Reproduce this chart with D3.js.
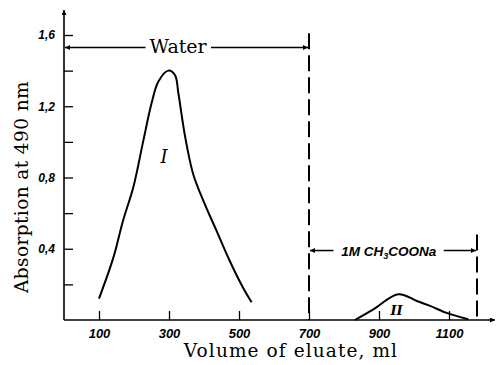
<!DOCTYPE html>
<html>
<head>
<meta charset="utf-8">
<script src="https://cdn.jsdelivr.net/npm/d3@7"></script>
<style>
  body { margin: 0; background: #fff; }
  svg { display: block; }
  .tick-label { font-family: "Liberation Sans", Arial, sans-serif; font-style: italic; font-weight: bold; }
  .title { font-family: "DejaVu Serif", serif; }
</style>
</head>
<body>
<div id="chart"></div>
<script>
// peak I (water fraction)
const peak1Volume = [100, 141, 169, 198, 227, 250, 270, 298, 317, 327, 346, 369, 398, 436, 474, 512, 536];
const peak1Abs = [0.12, 0.35, 0.56, 0.745, 1.01, 1.215, 1.34, 1.40, 1.375, 1.27, 1.03, 0.82, 0.67, 0.50, 0.33, 0.18, 0.10];
// peak II (1M CH3COONa fraction)
const peak2Volume = [831, 884, 955, 1008, 1046, 1093, 1155];
const peak2Abs = [0, 0.06, 0.145, 0.107, 0.079, 0.04, 0.004];

const xTicks = [100, 300, 500, 700, 900, 1100];
const yTicks = [0.2, 0.4, 0.6, 0.8, 1.0, 1.2, 1.4, 1.6];
const yLabelled = [0.4, 0.8, 1.2, 1.6];

const eluentChange = 700;
const eluentEnd = 1180;

const width = 496, height = 365;

const svg = d3.select("#chart").append("svg")
  .attr("width", width)
  .attr("height", height);

const x = d3.scaleLinear().domain([0, 1100]).range([64, 449]);
const y = d3.scaleLinear().domain([0, 1.6]).range([320, 35]);

// arrow heads
const defs = svg.append("defs");
defs.append("marker")
  .attr("id", "arrow")
  .attr("viewBox", "0 0 10 10")
  .attr("refX", 10).attr("refY", 5)
  .attr("markerWidth", 9).attr("markerHeight", 5)
  .attr("markerUnits", "userSpaceOnUse")
  .attr("orient", "auto-start-reverse")
  .append("path")
  .attr("d", "M0,0L10,5L0,10Z")
  .attr("fill", "#000");

// axis lines with arrows
svg.append("line")
  .attr("x1", x(0)).attr("y1", y(0))
  .attr("x2", x(0)).attr("y2", 10)
  .attr("stroke", "#000").attr("stroke-width", 1.6)
  .attr("marker-end", "url(#arrow)");
svg.append("line")
  .attr("x1", x(0)).attr("y1", y(0))
  .attr("x2", 495).attr("y2", y(0))
  .attr("stroke", "#000").attr("stroke-width", 1.6)
  .attr("marker-end", "url(#arrow)");

// Y axis, ticks pointing inward
const yAxis = svg.append("g")
  .attr("transform", `translate(${x(0)},0)`)
  .call(d3.axisLeft(y)
    .tickValues(yTicks)
    .tickSize(-9)
    .tickPadding(9)
    .tickFormat(d => yLabelled.some(v => Math.abs(v - d) < 1e-9) ? d3.format(".1f")(d).replace(".", ",") : ""));
yAxis.select(".domain").remove();
yAxis.selectAll("line").attr("stroke", "#000").attr("stroke-width", 1.3);
yAxis.selectAll("text").attr("class", "tick-label").attr("font-size", 12).attr("fill", "#000");

// X axis, ticks pointing inward
const xAxis = svg.append("g")
  .attr("transform", `translate(0,${y(0)})`)
  .call(d3.axisBottom(x)
    .tickValues(xTicks)
    .tickSize(-9)
    .tickPadding(9)
    .tickFormat(d3.format("d")));
xAxis.select(".domain").remove();
xAxis.selectAll("line").attr("stroke", "#000").attr("stroke-width", 1.3);
xAxis.selectAll("text").attr("class", "tick-label").attr("font-size", 13).attr("fill", "#000");

// axis titles
svg.append("text")
  .attr("class", "title")
  .attr("transform", `translate(28,${187}) rotate(-90)`)
  .attr("text-anchor", "middle")
  .attr("font-size", 18.5)
  .attr("letter-spacing", 0.4)
  .text("Absorption at 490 nm");
svg.append("text")
  .attr("class", "title")
  .attr("x", 291).attr("y", 357)
  .attr("text-anchor", "middle")
  .attr("font-size", 18.5)
  .attr("letter-spacing", 1.1)
  .text("Volume of eluate, ml");

// dashed eluent boundaries
const dash = "16,6";
svg.append("line")
  .attr("x1", x(eluentChange)).attr("x2", x(eluentChange))
  .attr("y1", y(1.61)).attr("y2", y(0))
  .attr("stroke", "#000").attr("stroke-width", 2)
  .attr("stroke-dasharray", dash);
svg.append("line")
  .attr("x1", x(eluentEnd)).attr("x2", x(eluentEnd))
  .attr("y1", y(0.48)).attr("y2", y(0))
  .attr("stroke", "#000").attr("stroke-width", 2)
  .attr("stroke-dasharray", dash);

// "Water" span
const waterY = y(1.53);
svg.append("line")
  .attr("x1", x(233)).attr("x2", x(0) + 1)
  .attr("y1", waterY).attr("y2", waterY)
  .attr("stroke", "#000").attr("stroke-width", 1.5)
  .attr("marker-end", "url(#arrow)");
svg.append("line")
  .attr("x1", x(420)).attr("x2", x(eluentChange) - 1)
  .attr("y1", waterY).attr("y2", waterY)
  .attr("stroke", "#000").attr("stroke-width", 1.5)
  .attr("marker-end", "url(#arrow)");
svg.append("text")
  .attr("class", "title")
  .attr("x", x(326)).attr("y", waterY + 6)
  .attr("text-anchor", "middle")
  .attr("font-size", 19)
  .text("Water");

// "1M CH3COONa" span
const saltY = y(0.39);
svg.append("line")
  .attr("x1", x(770)).attr("x2", x(eluentChange) + 1)
  .attr("y1", saltY).attr("y2", saltY)
  .attr("stroke", "#000").attr("stroke-width", 1.5)
  .attr("marker-end", "url(#arrow)");
svg.append("line")
  .attr("x1", x(1085)).attr("x2", x(eluentEnd) - 1)
  .attr("y1", saltY).attr("y2", saltY)
  .attr("stroke", "#000").attr("stroke-width", 1.5)
  .attr("marker-end", "url(#arrow)");
const salt = svg.append("text")
  .attr("class", "tick-label")
  .attr("x", x(928)).attr("y", saltY + 5)
  .attr("text-anchor", "middle")
  .attr("font-size", 13.5);
salt.append("tspan").text("1M CH");
salt.append("tspan").attr("dy", 3).attr("font-size", 9).text("3");
salt.append("tspan").attr("dy", -3).text("COONa");

// elution curves
const line = d3.line().curve(d3.curveCatmullRom.alpha(0.5));
const pts1 = peak1Volume.map((v, i) => [x(v), y(peak1Abs[i])]);
const pts2 = peak2Volume.map((v, i) => [x(v), y(peak2Abs[i])]);
svg.append("path").attr("d", line(pts1))
  .attr("fill", "none").attr("stroke", "#000").attr("stroke-width", 2);
svg.append("path").attr("d", line(pts2))
  .attr("fill", "none").attr("stroke", "#000").attr("stroke-width", 2);

// peak labels
svg.append("text")
  .attr("x", x(286)).attr("y", y(0.88))
  .attr("text-anchor", "middle")
  .attr("font-family", "DejaVu Serif, serif")
  .attr("font-style", "italic")
  .attr("font-size", 18)
  .text("I");
svg.append("text")
  .attr("x", x(950)).attr("y", y(0.03))
  .attr("text-anchor", "middle")
  .attr("font-family", "DejaVu Serif, serif")
  .attr("font-style", "italic")
  .attr("font-weight", "bold")
  .attr("font-size", 13)
  .text("II");
</script>
</body>
</html>
